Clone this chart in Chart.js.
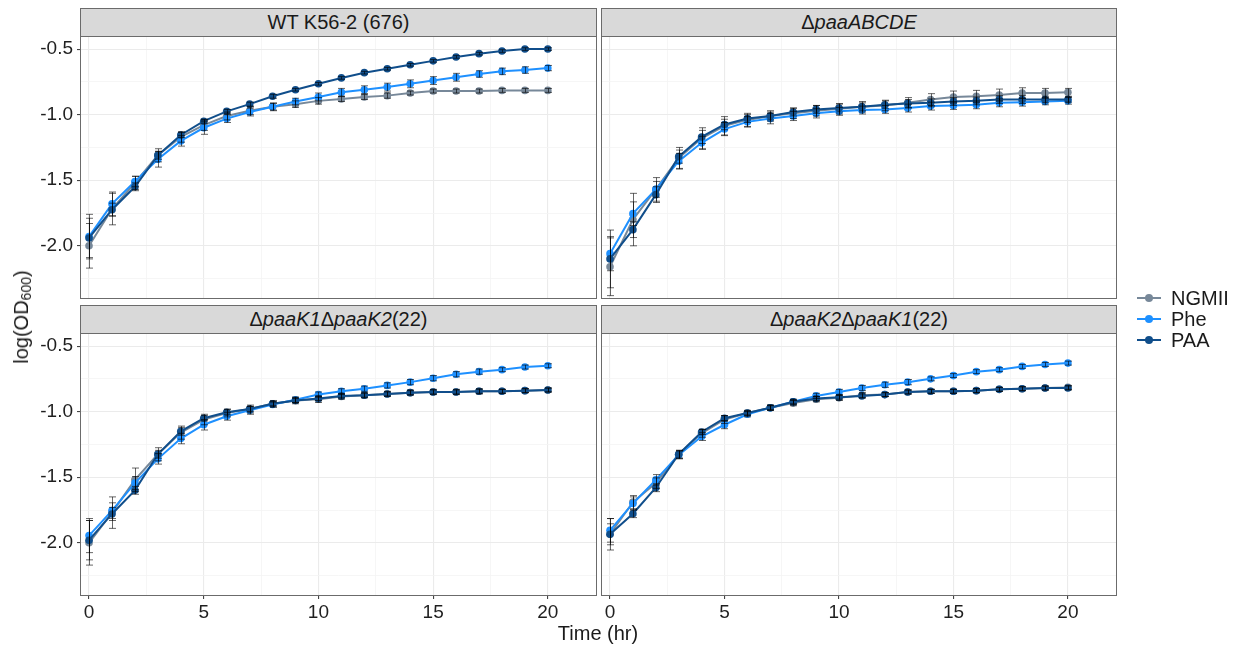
<!DOCTYPE html>
<html>
<head>
<meta charset="utf-8">
<script src="https://cdn.jsdelivr.net/npm/chart.js@4.4.1/dist/chart.umd.min.js"></script>
<style>
  body { margin: 0; background: #fff; font-family: "Liberation Sans", Arial, sans-serif; color: #1a1a1a; }
  #wrap { position: relative; width: 1242px; height: 646px; overflow: hidden; }
  canvas { position: absolute; }
  .strip { position: absolute; height: 29px; box-sizing: border-box; background: #d9d9d9; border: 1px solid #6b6b6b;
           text-align: center; font-size: 20px; line-height: 27px; color: #1a1a1a; }
  .ytitle { position: absolute; left: 22px; top: 317px; transform: translate(-50%, -50%) rotate(-90deg);
            font-size: 20px; white-space: nowrap; }
  .ytitle sub { font-size: 14px; vertical-align: -3px; }
  .xtitle { position: absolute; left: 598px; top: 633px; transform: translate(-50%, -50%); font-size: 20px; white-space: nowrap; }
  .legend { position: absolute; left: 1137px; top: 287px; }
  .legend .row { position: relative; height: 21px; }
  .legend .key { position: absolute; left: 0; top: 10px; width: 24px; height: 2px; }
  .legend .dot { position: absolute; left: 8px; top: 7px; width: 8px; height: 8px; border-radius: 50%; }
  .legend span { position: absolute; left: 34px; top: 0; font-size: 20px; line-height: 22px; }
</style>
</head>
<body>
<div id="wrap">
  <div class="strip" style="left:80px; top:8px; width:517px;">WT K56-2 (676)</div>
  <div class="strip" style="left:601px; top:8px; width:516px;">Δ<i>paaABCDE</i></div>
  <div class="strip" style="left:80px; top:305px; width:517px;">Δ<i>paaK1</i>Δ<i>paaK2</i>(22)</div>
  <div class="strip" style="left:601px; top:305px; width:516px;">Δ<i>paaK2</i>Δ<i>paaK1</i>(22)</div>

  <canvas id="c0"></canvas>
  <canvas id="c1"></canvas>
  <canvas id="c2"></canvas>
  <canvas id="c3"></canvas>

  <div class="ytitle">log(OD<sub>600</sub>)</div>
  <div class="xtitle">Time (hr)</div>

  <div class="legend">
    <div class="row"><div class="key" style="background:#778899"></div><div class="dot" style="background:#778899"></div><span>NGMII</span></div>
    <div class="row"><div class="key" style="background:#1e90ff"></div><div class="dot" style="background:#1e90ff"></div><span>Phe</span></div>
    <div class="row"><div class="key" style="background:#104e8b"></div><div class="dot" style="background:#104e8b"></div><span>PAA</span></div>
  </div>
</div>

<script>
const hours = [0, 1, 2, 3, 4, 5, 6, 7, 8, 9, 10, 11, 12, 13, 14, 15, 16, 17, 18, 19, 20];
const seriesNames = ['NGMII', 'Phe', 'PAA'];
const seriesColors = ['#778899', '#1e90ff', '#104e8b'];

// WT K56-2 (676)
const wtNGMII = [-2.00, -1.72, -1.52, -1.31, -1.17, -1.08, -1.01, -0.97, -0.94, -0.92, -0.895, -0.88, -0.865, -0.855, -0.835, -0.82, -0.82, -0.82, -0.815, -0.815, -0.815];
const wtPhe = [-1.93, -1.68, -1.51, -1.34, -1.20, -1.10, -1.03, -0.98, -0.94, -0.90, -0.865, -0.83, -0.81, -0.79, -0.765, -0.74, -0.715, -0.69, -0.67, -0.66, -0.645];
const wtPAA = [-1.94, -1.725, -1.55, -1.31, -1.155, -1.05, -0.975, -0.92, -0.86, -0.81, -0.765, -0.72, -0.68, -0.65, -0.62, -0.59, -0.56, -0.535, -0.515, -0.50, -0.50];
const wtNGMIIsd = [0.17, 0.12, 0.05, 0.05, 0.04, 0.04, 0.03, 0.03, 0.03, 0.025, 0.025, 0.02, 0.02, 0.02, 0.015, 0.015, 0.015, 0.015, 0.015, 0.015, 0.015];
const wtPheSd = [0.17, 0.09, 0.04, 0.06, 0.04, 0.05, 0.03, 0.03, 0.025, 0.025, 0.03, 0.03, 0.03, 0.03, 0.03, 0.03, 0.03, 0.025, 0.025, 0.025, 0.02];
const wtPAASd = [0.15, 0.05, 0.03, 0.03, 0.02, 0.015, 0.015, 0.015, 0.015, 0.01, 0.01, 0.01, 0.01, 0.01, 0.01, 0.01, 0.01, 0.01, 0.01, 0.01, 0.01];

// ΔpaaABCDE
const abNGMII = [-2.16, -1.80, -1.57, -1.33, -1.18, -1.085, -1.04, -1.01, -0.99, -0.97, -0.955, -0.94, -0.93, -0.91, -0.885, -0.865, -0.86, -0.85, -0.835, -0.835, -0.83];
const abPhe = [-2.06, -1.755, -1.57, -1.355, -1.215, -1.11, -1.055, -1.03, -1.01, -0.99, -0.975, -0.965, -0.96, -0.95, -0.935, -0.93, -0.925, -0.91, -0.905, -0.90, -0.895];
const abPAA = [-2.10, -1.877, -1.61, -1.32, -1.17, -1.075, -1.03, -1.01, -0.98, -0.96, -0.95, -0.94, -0.925, -0.915, -0.91, -0.90, -0.895, -0.885, -0.885, -0.885, -0.885];
const abNGMIIsd = [0.22, 0.20, 0.09, 0.08, 0.08, 0.07, 0.05, 0.04, 0.04, 0.04, 0.04, 0.04, 0.04, 0.04, 0.045, 0.045, 0.045, 0.045, 0.04, 0.035, 0.03];
const abPheSd = [0.13, 0.09, 0.06, 0.06, 0.05, 0.05, 0.04, 0.04, 0.035, 0.035, 0.03, 0.03, 0.03, 0.03, 0.03, 0.03, 0.03, 0.03, 0.03, 0.025, 0.025];
const abPAASd = [0.22, 0.06, 0.06, 0.05, 0.05, 0.04, 0.03, 0.03, 0.03, 0.03, 0.03, 0.03, 0.03, 0.03, 0.03, 0.03, 0.03, 0.03, 0.03, 0.025, 0.02];

// ΔpaaK1ΔpaaK2(22)
const k12NGMII = [-2.00, -1.77, -1.52, -1.325, -1.16, -1.06, -1.01, -0.98, -0.94, -0.915, -0.905, -0.885, -0.875, -0.865, -0.855, -0.85, -0.85, -0.845, -0.845, -0.84, -0.835];
const k12Phe = [-1.945, -1.755, -1.545, -1.36, -1.205, -1.10, -1.035, -0.99, -0.945, -0.91, -0.87, -0.845, -0.825, -0.80, -0.775, -0.745, -0.715, -0.695, -0.68, -0.66, -0.65];
const k12PAA = [-1.98, -1.78, -1.60, -1.325, -1.15, -1.05, -1.005, -0.98, -0.94, -0.915, -0.90, -0.88, -0.875, -0.865, -0.855, -0.85, -0.85, -0.845, -0.845, -0.84, -0.835];
const k12NGMIIsd = [0.17, 0.12, 0.09, 0.05, 0.05, 0.04, 0.03, 0.03, 0.025, 0.025, 0.025, 0.02, 0.02, 0.02, 0.02, 0.02, 0.02, 0.02, 0.015, 0.015, 0.015];
const k12PheSd = [0.13, 0.06, 0.05, 0.04, 0.04, 0.04, 0.03, 0.03, 0.02, 0.02, 0.02, 0.02, 0.02, 0.02, 0.02, 0.02, 0.02, 0.02, 0.015, 0.015, 0.015];
const k12PAASd = [0.15, 0.05, 0.03, 0.03, 0.03, 0.02, 0.02, 0.02, 0.015, 0.015, 0.015, 0.015, 0.015, 0.015, 0.015, 0.015, 0.015, 0.015, 0.015, 0.015, 0.015];

// ΔpaaK2ΔpaaK1(22)
const k21NGMII = [-1.935, -1.69, -1.545, -1.325, -1.165, -1.06, -1.01, -0.97, -0.935, -0.905, -0.895, -0.875, -0.87, -0.85, -0.845, -0.845, -0.84, -0.83, -0.825, -0.82, -0.815];
const k21Phe = [-1.905, -1.70, -1.52, -1.33, -1.19, -1.10, -1.02, -0.97, -0.925, -0.88, -0.85, -0.82, -0.795, -0.775, -0.75, -0.725, -0.695, -0.68, -0.655, -0.64, -0.63];
const k21PAA = [-1.935, -1.778, -1.58, -1.325, -1.155, -1.05, -1.01, -0.97, -0.925, -0.90, -0.89, -0.88, -0.87, -0.85, -0.845, -0.845, -0.84, -0.83, -0.825, -0.82, -0.82];
const k21NGMIIsd = [0.12, 0.05, 0.04, 0.03, 0.03, 0.03, 0.02, 0.02, 0.02, 0.02, 0.02, 0.02, 0.015, 0.015, 0.015, 0.015, 0.015, 0.015, 0.015, 0.015, 0.015];
const k21PheSd = [0.09, 0.05, 0.04, 0.03, 0.03, 0.03, 0.02, 0.02, 0.02, 0.02, 0.02, 0.02, 0.02, 0.02, 0.015, 0.015, 0.015, 0.015, 0.015, 0.015, 0.015];
const k21PAASd = [0.08, 0.03, 0.03, 0.03, 0.02, 0.02, 0.015, 0.015, 0.015, 0.015, 0.015, 0.015, 0.015, 0.015, 0.015, 0.015, 0.015, 0.015, 0.015, 0.015, 0.015];

// axis ticks (major ones get labels, the rest are minor grid lines)
const xTicks = [0, 2.5, 5, 7.5, 10, 12.5, 15, 17.5, 20];
const yTicks = [-2.25, -2.0, -1.75, -1.5, -1.25, -1.0, -0.75, -0.5];
const xRange = [-0.35, 22.1];
const yRange = [-2.398, -0.408];

const panels = [
  { canvas: 'c0', left: 81, top: 37, w: 515, yLabels: true, xLabels: false, means: [wtNGMII, wtPhe, wtPAA], sds: [wtNGMIIsd, wtPheSd, wtPAASd] },
  { canvas: 'c1', left: 602, top: 37, w: 514, yLabels: false, xLabels: false, means: [abNGMII, abPhe, abPAA], sds: [abNGMIIsd, abPheSd, abPAASd] },
  { canvas: 'c2', left: 81, top: 334, w: 515, yLabels: true, xLabels: true, means: [k12NGMII, k12Phe, k12PAA], sds: [k12NGMIIsd, k12PheSd, k12PAASd] },
  { canvas: 'c3', left: 602, top: 334, w: 514, yLabels: false, xLabels: true, means: [k21NGMII, k21Phe, k21PAA], sds: [k21NGMIIsd, k21PheSd, k21PAASd] }
];
const panelH = 261;

const isMult = (v, step) => Math.abs(v / step - Math.round(v / step)) < 1e-6;

// black mean ± sd whiskers with small caps
const errorBars = {
  id: 'errorBars',
  afterDatasetsDraw(chart) {
    const { ctx, chartArea, scales } = chart;
    ctx.save();
    ctx.beginPath();
    ctx.rect(chartArea.left, chartArea.top, chartArea.width, chartArea.height);
    ctx.clip();
    ctx.strokeStyle = 'rgba(0,0,0,0.6)';
    ctx.lineWidth = 1;
    chart.data.datasets.forEach(ds => {
      ds.data.forEach((p, i) => {
        const x = Math.round(scales.x.getPixelForValue(p.x)) + 0.5;
        const y1 = scales.y.getPixelForValue(p.y + ds.sd[i]);
        const y2 = scales.y.getPixelForValue(p.y - ds.sd[i]);
        ctx.beginPath();
        ctx.moveTo(x, y1); ctx.lineTo(x, y2);
        ctx.moveTo(x - 3.5, y1); ctx.lineTo(x + 3.5, y1);
        ctx.moveTo(x - 3.5, y2); ctx.lineTo(x + 3.5, y2);
        ctx.stroke();
      });
    });
    ctx.restore();
  }
};

// grey panel frame
const panelBorder = {
  id: 'panelBorder',
  afterDraw(chart) {
    const { ctx, chartArea } = chart;
    ctx.save();
    ctx.strokeStyle = '#6b6b6b';
    ctx.lineWidth = 1;
    ctx.strokeRect(chartArea.left - 0.5, chartArea.top - 0.5, chartArea.width + 1, chartArea.height + 1);
    ctx.restore();
  }
};

const tickFont = { family: '"Liberation Sans", Arial, sans-serif', size: 19 };

panels.forEach(p => {
  const padL = p.yLabels ? 81 : 20;
  const padT = 20, padR = 20;
  const padB = p.xLabels ? 50 : 20;
  const cv = document.getElementById(p.canvas);
  cv.width = padL + p.w + padR;
  cv.height = padT + panelH + padB;
  cv.style.left = (p.left - padL) + 'px';
  cv.style.top = (p.top - padT) + 'px';

  const datasets = seriesNames.map((name, s) => ({
    label: name,
    data: hours.map((h, i) => ({ x: h, y: p.means[s][i] })),
    sd: p.sds[s],
    borderColor: seriesColors[s],
    backgroundColor: seriesColors[s],
    borderWidth: 2,
    pointRadius: 3.8,
    pointBorderWidth: 0,
    order: 3 - s
  }));

  new Chart(cv, {
    type: 'line',
    data: { datasets },
    options: {
      responsive: false,
      animation: false,
      devicePixelRatio: 1,
      layout: { padding: { left: 0, top: padT, right: padR, bottom: 0 } },
      plugins: { legend: { display: false }, tooltip: { enabled: false } },
      scales: {
        x: {
          type: 'linear',
          min: xRange[0], max: xRange[1],
          afterBuildTicks: s => { s.ticks = xTicks.map(v => ({ value: v })); },
          afterFit: s => { s.height = padB; },
          border: { display: false },
          grid: {
            color: c => isMult(c.tick.value, 5) ? '#ebebeb' : '#f4f4f4',
            lineWidth: c => isMult(c.tick.value, 5) ? 1.1 : 0.8,
            drawTicks: p.xLabels,
            tickLength: 4,
            tickColor: c => isMult(c.tick.value, 5) ? '#444' : 'rgba(0,0,0,0)'
          },
          ticks: {
            display: p.xLabels,
            autoSkip: false,
            maxRotation: 0,
            padding: 2,
            color: '#1f1f1f',
            font: tickFont,
            callback: v => isMult(v, 5) ? String(v) : ''
          }
        },
        y: {
          type: 'linear',
          min: yRange[0], max: yRange[1],
          afterBuildTicks: s => { s.ticks = yTicks.map(v => ({ value: v })); },
          afterFit: s => { s.width = padL; },
          border: { display: false },
          grid: {
            color: c => isMult(c.tick.value, 0.5) ? '#ebebeb' : '#f4f4f4',
            lineWidth: c => isMult(c.tick.value, 0.5) ? 1.1 : 0.8,
            drawTicks: p.yLabels,
            tickLength: 4,
            tickColor: c => isMult(c.tick.value, 0.5) ? '#444' : 'rgba(0,0,0,0)'
          },
          ticks: {
            display: p.yLabels,
            padding: 4,
            color: '#1f1f1f',
            font: tickFont,
            callback: v => isMult(v, 0.5) ? v.toFixed(1) : ''
          }
        }
      }
    },
    plugins: [errorBars, panelBorder]
  });
});
</script>
</body>
</html>
